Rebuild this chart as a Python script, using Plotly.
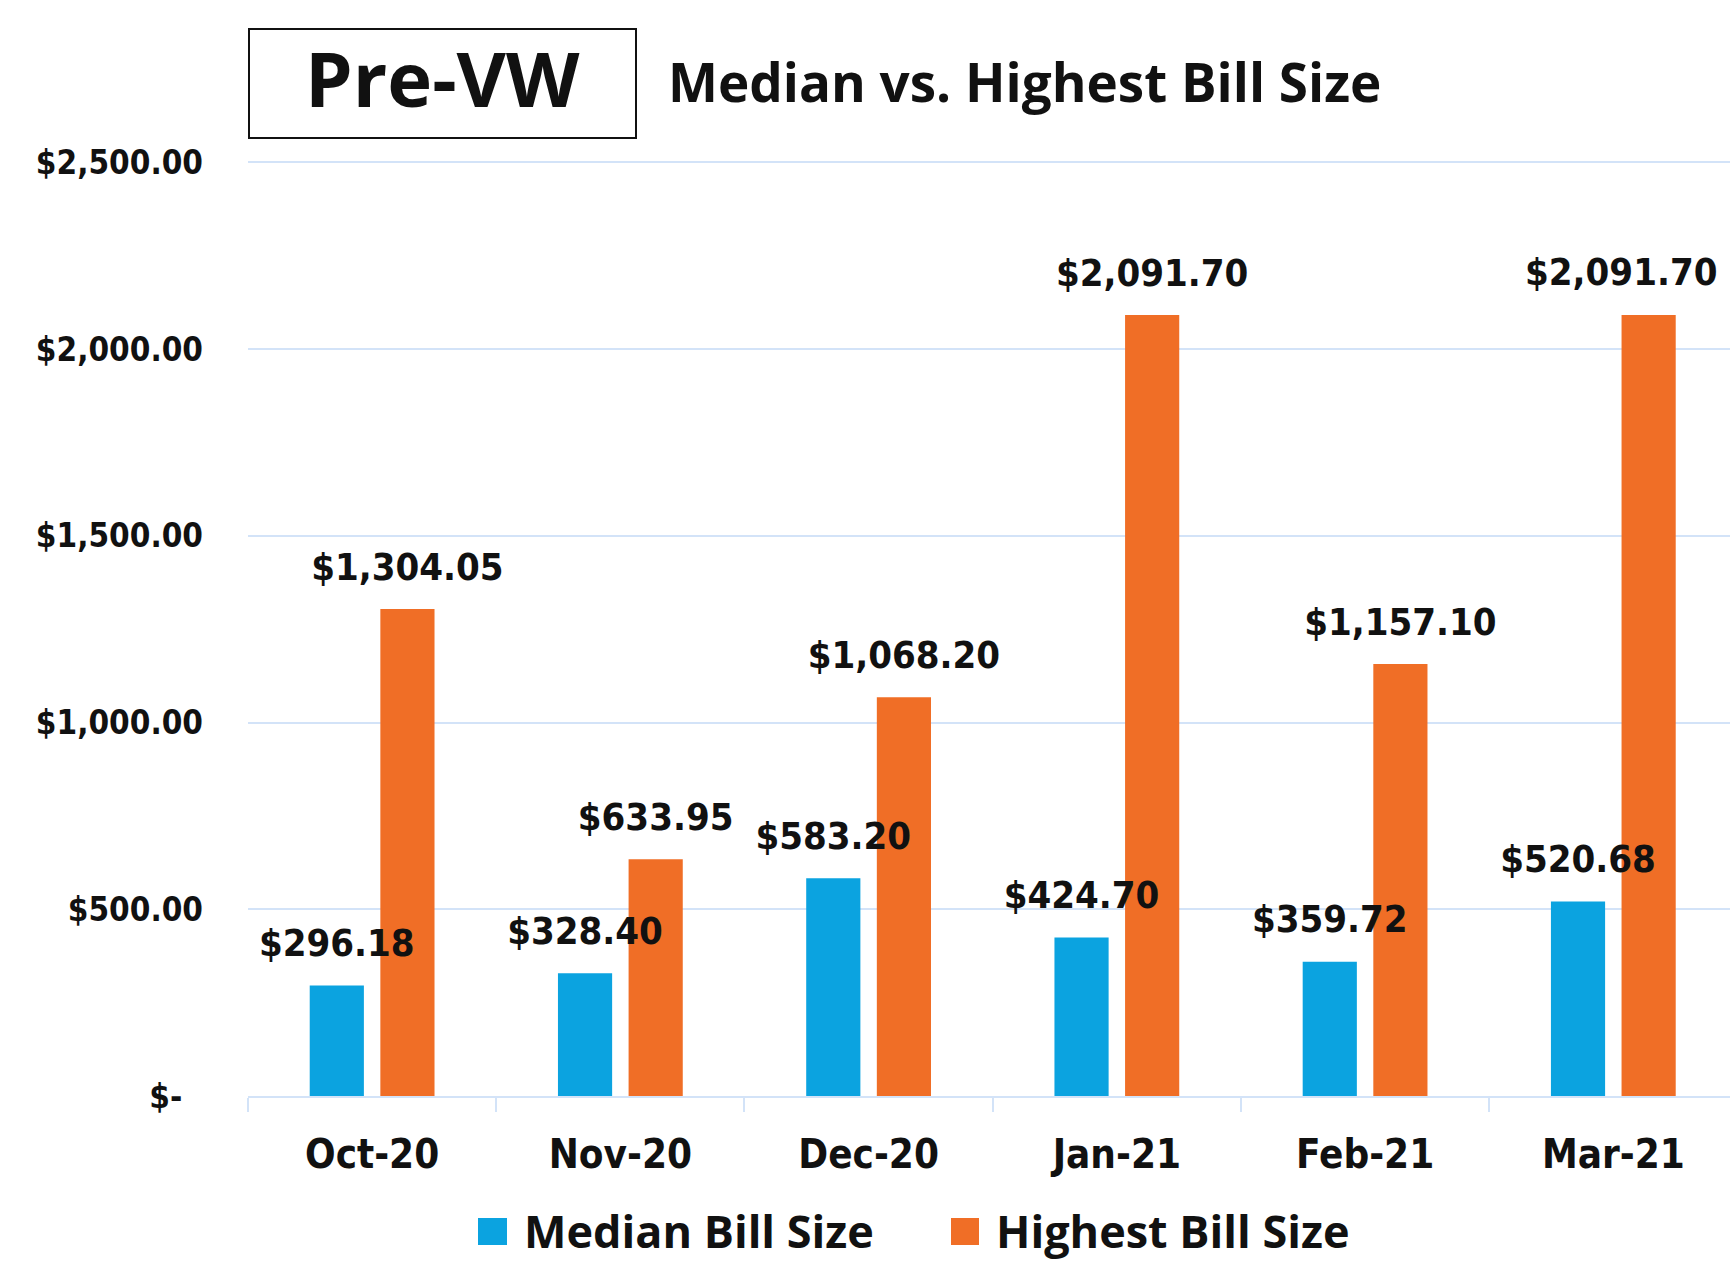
import plotly.graph_objects as go

categories = ["Oct-20", "Nov-20", "Dec-20", "Jan-21", "Feb-21", "Mar-21"]
median_bill = [296.18, 328.40, 583.20, 424.70, 359.72, 520.68]
highest_bill = [1304.05, 633.95, 1068.20, 2091.70, 1157.10, 2091.70]
y_tick_vals = [0, 500, 1000, 1500, 2000, 2500]
y_tick_text = ["$-\u00a0\u00a0", "$500.00", "$1,000.00", "$1,500.00", "$2,000.00", "$2,500.00"]
series_names = ["Median Bill Size", "Highest Bill Size"]

BLUE = "#0BA3E0"
ORANGE = "#F06E26"
GRID = "#D3E3F8"
INK = "#111111"
COND = "DejaVu Sans Condensed"


def money(v):
    return "${:,.2f}".format(v)


median_labels = [money(v) for v in median_bill]
highest_labels = [money(v) for v in highest_bill]
# the last label sits against the right edge (as in the original): drawn as an annotation
last_label = highest_labels[-1]
highest_labels[-1] = ""

fig = go.Figure()
fig.add_trace(go.Bar(x=categories, y=median_bill, name=series_names[0],
                     marker=dict(color=BLUE, line=dict(width=0)), showlegend=False))
fig.add_trace(go.Bar(x=categories, y=highest_bill, name=series_names[1],
                     marker=dict(color=ORANGE, line=dict(width=0)), showlegend=False))

label_font = dict(family=COND, size=38, color=INK, weight="bold")
for vals, labs in ((median_bill, median_labels), (highest_bill, highest_labels)):
    fig.add_trace(go.Scatter(
        x=categories, y=vals, text=labs, mode="markers+text",
        textposition="top center", textfont=label_font,
        marker=dict(size=30, color="rgba(0,0,0,0)"),
        cliponaxis=False, showlegend=False, hoverinfo="skip",
    ))

# plot area: x 248..1730, y 161..1096 (px)
def py(Y):
    return (1096 - Y) / 935.0


def px(X):
    return (X - 248) / 1482.0


annotations = [
    dict(text=last_label, xref="x", yref="y", x=categories[-1], y=highest_bill[-1],
         xanchor="right", yanchor="bottom", xshift=107, yshift=19, showarrow=False,
         font=label_font),
    dict(text="<b>Pre-VW</b>", xref="paper", yref="paper", x=px(442), y=py(78),
         xanchor="center", yanchor="middle", showarrow=False,
         font=dict(family="Open Sans", size=76, color=INK)),
    dict(text="<b>Median vs. Highest Bill Size</b>", xref="paper", yref="paper",
         x=px(666), y=py(81), xanchor="left", yanchor="middle", showarrow=False,
         font=dict(family="Open Sans", size=53, color=INK)),
    dict(text="<b>" + series_names[0] + "</b>", xref="paper", yref="paper",
         x=px(522), y=py(1230), xanchor="left", yanchor="middle", showarrow=False,
         font=dict(family="Open Sans", size=45, color=INK)),
    dict(text="<b>" + series_names[1] + "</b>", xref="paper", yref="paper",
         x=px(994), y=py(1230), xanchor="left", yanchor="middle", showarrow=False,
         font=dict(family="Open Sans", size=45, color=INK)),
]

shapes = [
    dict(type="rect", xref="paper", yref="paper", x0=px(249), x1=px(636),
         y0=py(138), y1=py(29), fillcolor="rgba(0,0,0,0)",
         line=dict(color=INK, width=2)),
    dict(type="rect", xref="paper", yref="paper", x0=px(478), x1=px(507),
         y0=py(1245), y1=py(1218), fillcolor=BLUE, line=dict(width=0)),
    dict(type="rect", xref="paper", yref="paper", x0=px(951), x1=px(979),
         y0=py(1245), y1=py(1218), fillcolor=ORANGE, line=dict(width=0)),
]

fig.update_layout(
    width=1730, height=1261,
    barmode="group", bargap=0.431, bargroupgap=0.233,
    scattermode="group", scattergap=0.431,
    paper_bgcolor="white", plot_bgcolor="white",
    margin=dict(l=248, r=0, t=161, b=165),
    showlegend=False,
    xaxis=dict(
        range=[-0.5, 5.47], showgrid=False, showline=True, linecolor=GRID, linewidth=2,
        ticks="outside", tickson="boundaries", ticklen=14, tickcolor=GRID, tickwidth=2,
        tickfont=dict(family=COND, size=40, color=INK, weight="bold"),
        ticklabelstandoff=22, automargin=False,
    ),
    yaxis=dict(
        range=[0, 2504], tickvals=y_tick_vals, ticktext=y_tick_text,
        showgrid=True, gridcolor=GRID, gridwidth=2, zeroline=False,
        showline=False, ticks="",
        tickfont=dict(family=COND, size=33, color=INK, weight="bold"),
        ticklabelstandoff=44, automargin=False,
    ),
    annotations=annotations,
    shapes=shapes,
)

fig.write_html("out.html", config={"displayModeBar": False},
               post_script="document.body.style.margin='0';document.body.style.overflow='hidden';")
